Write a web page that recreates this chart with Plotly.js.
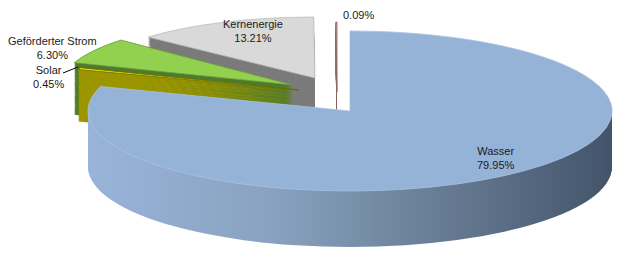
<!DOCTYPE html>
<html><head><meta charset="utf-8">
<script src="https://cdn.plot.ly/plotly-3.0.1.min.js"></script>
<style>html,body{margin:0;padding:0;background:#fff;} #chart{width:619px;height:259px;}</style>
</head><body><div id="chart"></div>
<script>
// ---- data ----
const sliceNames = ['Wasser', 'Solar', 'Geförderter Strom', 'Kernenergie', ''];
const shares = [79.95, 0.45, 6.30, 13.21, 0.09];
const topColors = ['#95b3d7', '#f0ee00', '#92d050', '#d9d9d9', '#c8a2a2'];
const sideColors = ['#7f97b3', '#9c9600', '#4f7b2c', '#7b7b7b', '#8c6464'];
const lineColors = ['#a9c1df', '#6f6a00', '#6d9a3c', '#bdbdbd', '#8c6464'];

// ---- layout / 3D look (pixel geometry of each exploded slice's top face) ----
const W = 619, H = 259;
const MAXDEPTH = 56, STEP = 1, PULL = 0.12;
const sliceApexX = [350, 299, 293, 315, 337];
const sliceApexY = [111, 90, 85, 78, 92];
const sliceRX = [262, 232, 232, 225, 225];
const sliceRY = [80, 67, 67, 61, 70];
const sliceDepth = [56, 52, 52, 50, 50];

function pieTrace(colors, lines, lw) {
  return {
    type: 'pie', values: shares,
    labels: sliceNames.map((n, i) => n || 'Sonstige'),
    sort: false, direction: 'clockwise', rotation: 0,
    pull: shares.map(() => PULL),
    marker: {colors: colors, line: {color: lines, width: lw || 0}},
    textinfo: 'none', hoverinfo: 'none', showlegend: false,
    domain: {x: [0, 1], y: [0, 1]}
  };
}

const traces = [], offsets = [];
for (let dz = MAXDEPTH; dz > 0; dz -= STEP) { offsets.push(dz); traces.push(pieTrace(sideColors, sideColors, 0)); }
offsets.push(0); traces.push(pieTrace(topColors, lineColors, 0.8));

function px(x) { return x / W; }
function py(y) { return 1 - y / H; }
function lbl(i) {
  const pct = shares[i].toFixed(2) + '%';
  return sliceNames[i] ? sliceNames[i] + '<br>' + pct : pct;
}
const font = {family: 'Liberation Sans, Arial, sans-serif', size: 11, color: '#1a1a1a'};
const ann = (i, x, y) => ({text: lbl(i), x: px(x), y: py(y), xref: 'paper', yref: 'paper',
  xanchor: 'center', yanchor: 'middle', showarrow: false, font: font});

const layout = {
  width: W, height: H, margin: {l: 0, r: 0, t: 0, b: 0},
  paper_bgcolor: '#fff', plot_bgcolor: '#fff', showlegend: false,
  annotations: [
    ann(2, 52, 48), ann(1, 48, 77), ann(3, 253, 31), ann(4, 358, 15), ann(0, 496, 158)
  ],
  shapes: [{type: 'line', xref: 'paper', yref: 'paper', x0: px(63), y0: py(73), x1: px(78), y1: py(67),
    line: {color: '#000', width: 1}}]
};

// mid angle of each slice (clockwise from 12 o'clock), from the data
const total = shares.reduce((a, b) => a + b, 0);
const midAngles = [];
{ let acc = 0; shares.forEach(v => { midAngles.push(2 * Math.PI * (acc + v / 2) / total); acc += v; }); }

Plotly.newPlot('chart', traces, layout, {staticPlot: true}).then(gd => {
  const svgns = 'http://www.w3.org/2000/svg';
  const defs = gd.querySelector('svg.main-svg defs');
  const grad = document.createElementNS(svgns, 'linearGradient');
  grad.setAttribute('id', 'wgrad');
  grad.setAttribute('x1', '0'); grad.setAttribute('x2', '1');
  grad.setAttribute('y1', '0'); grad.setAttribute('y2', '0');
  [['0', '#98b4d9'], ['0.35', '#89a2c0'], ['0.6', '#6f859e'], ['1', '#43546a']].forEach(s => {
    const st = document.createElementNS(svgns, 'stop');
    st.setAttribute('offset', s[0]); st.setAttribute('stop-color', s[1]);
    grad.appendChild(st);
  });
  defs.appendChild(grad);

  const groups = gd.querySelectorAll('.pielayer g.trace');
  groups.forEach((g, i) => {
    const cd0 = gd.calcdata[i][0];
    const slices = g.querySelectorAll('g.slice');
    slices.forEach((s, j) => {
      const pcx = cd0.cx + PULL * cd0.r * Math.sin(midAngles[j]);
      const pcy = cd0.cy - PULL * cd0.r * Math.cos(midAngles[j]);
      const sx = sliceRX[j] / cd0.r, sy = sliceRY[j] / cd0.r;
      const dz = offsets[i] * sliceDepth[j] / MAXDEPTH;
      s.setAttribute('transform', 'translate(' + sliceApexX[j] + ',' + (sliceApexY[j] + dz) + ') scale(' + sx + ',' + sy + ') translate(' + (-pcx) + ',' + (-pcy) + ')');
      s.querySelectorAll('path').forEach(p => { p.style.vectorEffect = 'non-scaling-stroke'; });
      if (offsets[i] > 0 && j === 0) {
        const p = s.querySelector('path.surface');
        if (p) p.style.fill = 'url(#wgrad)';
      }
    });
  });
});
</script>
</body></html>
